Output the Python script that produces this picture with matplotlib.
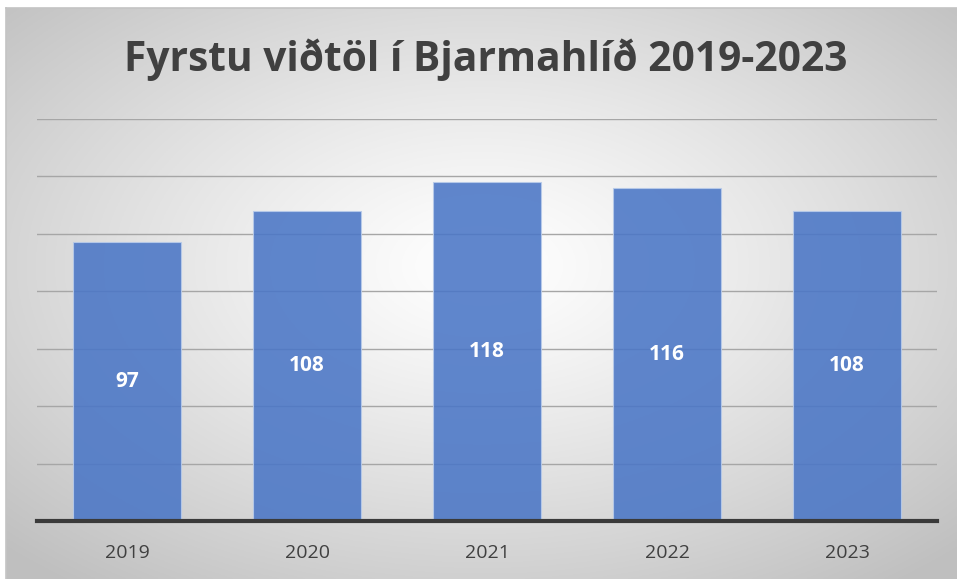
import numpy as np
import matplotlib
matplotlib.use('Agg')
import matplotlib.pyplot as plt

# data
years = ['2019', '2020', '2021', '2022', '2023']
counts = [97, 108, 118, 116, 108]
title = 'Fyrstu viðtöl í Bjarmahlíð 2019-2023'

W, H = 957, 579
fig = plt.figure(figsize=(W / 100, H / 100), dpi=100)
fig.patch.set_facecolor('white')

# ---- radial gradient background ----
bg = fig.add_axes([6 / W, 0, (W - 6) / W, (H - 8) / H])
ny, nx = 300, 500
yy, xx = np.mgrid[0:ny, 0:nx]
cx, cy = nx * 0.5, ny * 0.45
r = np.sqrt(((xx - cx) / (nx * 0.5)) ** 2 + ((yy - cy) / (ny * 0.5)) ** 2) / np.sqrt(2)
shade = 1.0 - 0.25 * np.clip(r, 0, 1) ** 1.2
img = np.dstack([shade, shade, shade])
bg.imshow(img, aspect='auto', extent=[0, 1, 0, 1], origin='upper')
bg.set_xlim(0, 1)
bg.set_ylim(0, 1)
for side in ['right', 'bottom']:
    bg.spines[side].set_visible(False)
for side in ['top', 'left']:
    bg.spines[side].set_color('#C4C4C4')
    bg.spines[side].set_linewidth(1.2)
bg.set_xticks([])
bg.set_yticks([])

# ---- bar chart ----
ax = fig.add_axes([37 / W, 58 / H, 900 / W, 402 / H])
ax.set_facecolor('none')
x = np.arange(len(years))
bars = ax.bar(x, counts, width=0.6, color='#4A76C6', alpha=0.88,
              edgecolor='#B8CBEA', linewidth=0.8, zorder=3)
ax.set_xlim(-0.5, len(years) - 0.5)
ax.set_ylim(0, 140)
ax.set_yticks(np.arange(20, 141, 20))
ax.yaxis.grid(True, color='#A6A6A6', linewidth=1.0, zorder=1)
ax.set_axisbelow(True)
ax.tick_params(axis='y', left=False, labelleft=False)
ax.tick_params(axis='x', bottom=False, labelsize=14, labelcolor='#404040', pad=13)
ax.set_xticks(x)
ax.set_xticklabels(years, family='Open Sans')
for side in ['top', 'right', 'left']:
    ax.spines[side].set_visible(False)
ax.spines['bottom'].set_color('#3A3A3A')
ax.spines['bottom'].set_linewidth(3)
ax.spines['bottom'].set_zorder(4)

for xi, v in zip(x, counts):
    ax.text(xi, v / 2, str(v), ha='center', va='center', color='white',
            fontsize=15, fontweight='bold', family='Open Sans', zorder=5)

fig.text(0.508, (H - 60) / H, title, ha='center', va='center',
         fontsize=29.3, fontweight='bold', color='#404040', family='Open Sans')

fig.savefig('out.png', dpi=100)
